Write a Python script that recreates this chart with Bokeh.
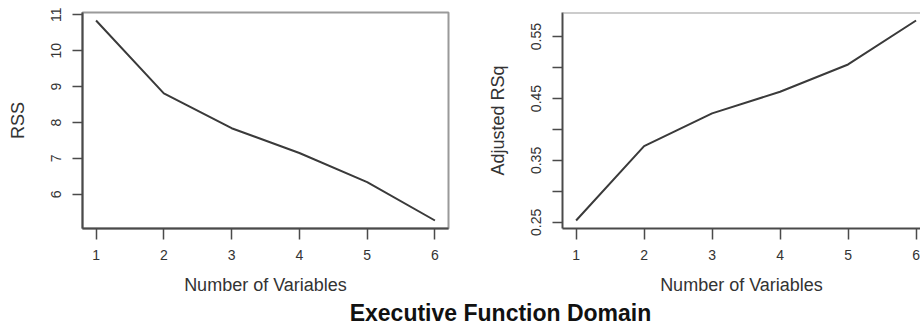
from bokeh.plotting import figure
from bokeh.layouts import row, column
from bokeh.models import Range1d, FixedTicker, Label, Span
from bokeh.embed import file_html
from bokeh.resources import INLINE

# Best-subset selection summary: model size vs. fit statistics
n_vars = [1, 2, 3, 4, 5, 6]
rss = [10.84, 8.81, 7.84, 7.15, 6.34, 5.27]
adj_rsq = [0.253, 0.373, 0.426, 0.461, 0.505, 0.576]

rss_ticks = [6, 7, 8, 9, 10, 11]
rss_tick_labels = {6: "6", 7: "7", 8: "8", 9: "9", 10: "10", 11: "11"}
adjr_ticks = [0.25, 0.3, 0.35, 0.4, 0.45, 0.5, 0.55]
adjr_tick_labels = {0.25: "0.25", 0.3: "", 0.35: "0.35", 0.4: "",
                    0.45: "0.45", 0.5: "", 0.55: "0.55"}
x_ticks = [1, 2, 3, 4, 5, 6]

title_text = "Executive Function Domain"
x_label = "Number of Variables"
rss_label = "RSS"
adjr_label = "Adjusted RSq"

FONT = "Liberation Sans"
TEXT = "#333333"
AXIS = "#4a4a4a"
BOX = "#9a9a9a"
LINE = "#3a3a3a"

PANEL_H = 297
STRIP_H = 31


def padded(values, frac=0.04):
    lo, hi = min(values), max(values)
    span = hi - lo
    return Range1d(lo - frac * span, hi + frac * span)


def panel(y, y_label, y_ticks, y_tick_labels, border_left, x_end, border_right, full_box):
    yr = padded(y)
    p = figure(
        width=460, height=PANEL_H,
        min_border_left=border_left, min_border_right=border_right,
        min_border_top=12, min_border_bottom=PANEL_H - 228,
        x_range=Range1d(0.8, x_end), y_range=yr,
        output_backend="svg", toolbar_location=None,
    )
    p.line(n_vars, y, line_color=LINE, line_width=2)

    p.xgrid.visible = False
    p.ygrid.visible = False
    p.background_fill_color = "white"
    p.border_fill_color = "white"
    if full_box:
        p.outline_line_color = BOX
        p.outline_line_width = 2
    else:
        # box runs past the page edge on the right: only its top side shows
        p.outline_line_color = None
        p.add_layout(Span(location=yr.end, dimension="width",
                          line_color=BOX, line_width=2))

    p.xaxis.ticker = FixedTicker(ticks=x_ticks)
    p.yaxis.ticker = FixedTicker(ticks=y_ticks)
    p.yaxis.major_label_overrides = y_tick_labels
    p.yaxis.major_label_orientation = "vertical"

    for ax in (p.xaxis[0], p.yaxis[0]):
        ax.axis_line_color = AXIS
        ax.axis_line_width = 2
        ax.major_tick_line_color = AXIS
        ax.major_tick_line_width = 1.5
        ax.major_tick_in = 0
        ax.minor_tick_line_color = None
        ax.major_label_text_font = FONT
        ax.major_label_text_font_size = "14px"
        ax.major_label_text_color = TEXT
        ax.axis_label_text_font = FONT
        ax.axis_label_text_font_size = "18px"
        ax.axis_label_text_font_style = "normal"
        ax.axis_label_text_color = TEXT

    p.xaxis.major_tick_out = 11
    p.xaxis.major_label_standoff = 10
    p.xaxis.axis_label_standoff = 12
    p.yaxis.major_tick_out = 10
    p.yaxis.major_label_standoff = 11
    p.yaxis.axis_label_standoff = 21

    p.xaxis.axis_label = x_label
    p.yaxis.axis_label = y_label
    return p


left = panel(rss, rss_label, rss_ticks, rss_tick_labels, 82, 6.2, 12, True)
right = panel(adj_rsq, adjr_label, adjr_ticks, adjr_tick_labels, 102, 6.065, 0, False)

# strip beneath both panels carrying the overall title
strip = figure(
    width=920, height=STRIP_H, x_range=Range1d(0, 920), y_range=Range1d(0, STRIP_H),
    x_axis_location=None, y_axis_location=None, min_border=0,
    output_backend="svg", toolbar_location=None,
)
strip.xgrid.visible = False
strip.ygrid.visible = False
strip.outline_line_color = None
strip.border_fill_color = "white"
strip.background_fill_color = "white"
strip.add_layout(Label(
    x=500, y=16, text=title_text, text_align="center", text_baseline="alphabetic",
    text_font=FONT, text_font_size="23px", text_font_style="bold", text_color="#111111",
))

layout = column(row(left, right, spacing=0), strip, spacing=0)

open("out.html", "w").write(file_html(layout, INLINE))
